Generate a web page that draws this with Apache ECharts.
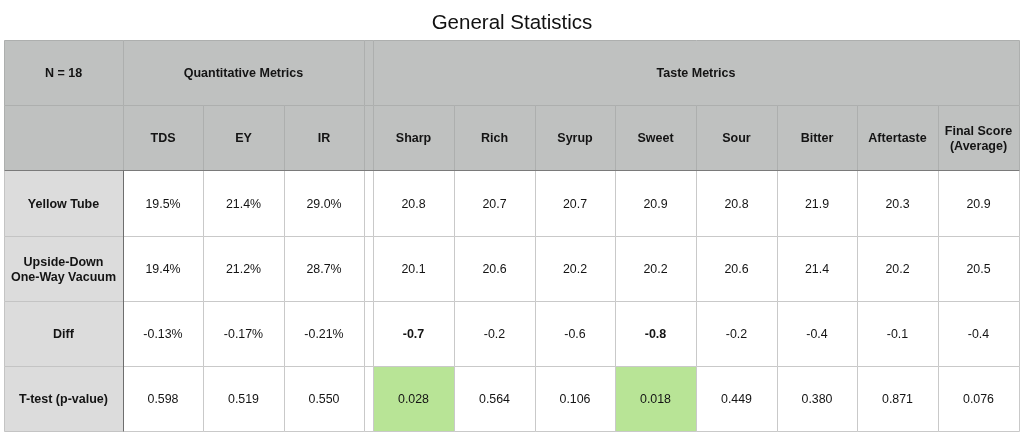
<!DOCTYPE html>
<html>
<head>
<meta charset="utf-8">
<script src="https://cdn.jsdelivr.net/npm/echarts@6/dist/echarts.min.js"></script>
<style>
  html, body { margin: 0; padding: 0; background: #fff; }
  #main { width: 1024px; height: 437px; }
</style>
</head>
<body>
<div id="main"></div>
<script>
// 数据
var sampleSize = 18;
var groupNames = ['Quantitative Metrics', 'Taste Metrics'];
var quantMetrics = ['TDS', 'EY', 'IR'];
var tasteMetrics = ['Sharp', 'Rich', 'Syrup', 'Sweet', 'Sour', 'Bitter', 'Aftertaste', 'Final Score\n(Average)'];
var rowLabels = ['Yellow Tube', 'Upside-Down\nOne-Way Vacuum', 'Diff', 'T-test (p-value)'];

var yellowQuant = [19.5, 21.4, 29.0];
var yellowTaste = [20.8, 20.7, 20.7, 20.9, 20.8, 21.9, 20.3, 20.9];
var vacuumQuant = [19.4, 21.2, 28.7];
var vacuumTaste = [20.1, 20.6, 20.2, 20.2, 20.6, 21.4, 20.2, 20.5];
var diffQuant = [-0.13, -0.17, -0.21];
var diffTaste = [-0.7, -0.2, -0.6, -0.8, -0.2, -0.4, -0.1, -0.4];
var pQuant = [0.598, 0.519, 0.550];
var pTaste = [0.028, 0.564, 0.106, 0.018, 0.449, 0.380, 0.871, 0.076];

// 布局 (列宽)
var colWidths = [119, 80, 81, 80, 9, 81, 81, 80, 81, 81, 80, 81, 81];
var rowCount = 6;
var edges = [0];
for (var i = 0; i < colWidths.length; i++) {
    edges.push(edges[i] + colWidths[i]);
}
var total = edges[edges.length - 1];

var cells = [];
function addCell(c0, c1, r, text, kind, fill, bold) {
    cells.push({ c0: c0, c1: c1, r: r, text: text, kind: kind, fill: fill, bold: bold });
}

// 表头
addCell(0, 1, 0, 'N = ' + sampleSize, 'head');
addCell(1, 4, 0, groupNames[0], 'head');
addCell(4, 5, 0, '', 'head');
addCell(5, 13, 0, groupNames[1], 'head');
addCell(0, 1, 1, '', 'head');
for (var i = 0; i < quantMetrics.length; i++) addCell(1 + i, 2 + i, 1, quantMetrics[i], 'head');
addCell(4, 5, 1, '', 'head');
for (var i = 0; i < tasteMetrics.length; i++) addCell(5 + i, 6 + i, 1, tasteMetrics[i], 'head');

// 表体
var rowsQuant = [yellowQuant, vacuumQuant, diffQuant, pQuant];
var rowsTaste = [yellowTaste, vacuumTaste, diffTaste, pTaste];
for (var r = 0; r < 4; r++) {
    addCell(0, 1, r + 2, rowLabels[r], 'label');
    for (var i = 0; i < quantMetrics.length; i++) {
        var v = rowsQuant[r][i];
        var txt = r < 2 ? v.toFixed(1) + '%' : (r === 2 ? v.toFixed(2) + '%' : v.toFixed(3));
        addCell(1 + i, 2 + i, r + 2, txt, 'body', r === 3 && pQuant[i] < 0.05, r === 2 && pQuant[i] < 0.05);
    }
    addCell(4, 5, r + 2, '', 'body');
    for (var i = 0; i < tasteMetrics.length; i++) {
        var v = rowsTaste[r][i];
        var txt = r === 3 ? v.toFixed(3) : v.toFixed(1);
        addCell(5 + i, 6 + i, r + 2, txt, 'body', r === 3 && pTaste[i] < 0.05, r === 2 && pTaste[i] < 0.05);
    }
}

var cellData = cells.map(function (c) {
    return [edges[c.c0], edges[c.c1], c.r, c.r + 1];
});

var FONT = '"Liberation Sans", Arial, Helvetica, sans-serif';

function renderCell(params, api) {
    var cell = cells[params.dataIndex];
    var p0 = api.coord([api.value(0), api.value(2)]);
    var p1 = api.coord([api.value(1), api.value(3)]);
    var x0 = Math.round(p0[0]), y0 = Math.round(p0[1]);
    var x1 = Math.round(p1[0]), y1 = Math.round(p1[1]);
    var fill = '#ffffff', stroke = '#c9c9c9';
    if (cell.kind === 'head') { fill = '#bfc1c0'; stroke = '#adafae'; }
    else if (cell.kind === 'label') { fill = '#dcdcdc'; stroke = '#c4c4c4'; }
    if (cell.fill) fill = '#b8e496';
    var bold = cell.kind !== 'body' || cell.bold;
    return {
        type: 'group',
        children: [{
            type: 'rect',
            shape: { x: x0 + 0.5, y: y0 + 0.5, width: x1 - x0, height: y1 - y0 },
            style: { fill: fill, stroke: stroke, lineWidth: 1 }
        }, {
            type: 'text',
            x: (x0 + x1) / 2,
            y: (y0 + y1) / 2 + 1.5,
            style: {
                text: cell.text,
                fill: '#141414',
                font: (bold ? 'bold 12.5px ' : '12.4px ') + FONT,
                align: 'center',
                verticalAlign: 'middle',
                lineHeight: 15
            }
        }]
    };
}

// 深色分隔线
var borderData = [
    [0, total, 2, 2, '#7a7a7a'],
    [edges[1], edges[1], 2, rowCount, '#6e6e6e']
];

function renderBorder(params, api) {
    var p0 = api.coord([api.value(0), api.value(2)]);
    var p1 = api.coord([api.value(1), api.value(3)]);
    return {
        type: 'line',
        shape: {
            x1: Math.round(p0[0]) + 0.5, y1: Math.round(p0[1]) + 0.5,
            x2: Math.round(p1[0]) + 0.5, y2: Math.round(p1[1]) + 0.5
        },
        style: { stroke: borderData[params.dataIndex][4], lineWidth: 1 }
    };
}

var myChart = echarts.init(document.getElementById('main'));
var option = {
    animation: false,
    title: {
        text: 'General Statistics',
        left: 'center',
        top: 8,
        textStyle: { fontFamily: FONT, fontSize: 20.5, fontWeight: 'normal', color: '#111' }
    },
    grid: { left: 4, right: 5, top: 40, bottom: 6 },
    xAxis: { type: 'value', min: 0, max: total, show: false },
    yAxis: { type: 'value', min: 0, max: rowCount, inverse: true, show: false },
    series: [{
        type: 'custom',
        renderItem: renderCell,
        data: cellData,
        silent: true
    }, {
        type: 'custom',
        renderItem: renderBorder,
        data: borderData.map(function (d) { return d.slice(0, 4); }),
        silent: true
    }]
};
myChart.setOption(option);
</script>
</body>
</html>
